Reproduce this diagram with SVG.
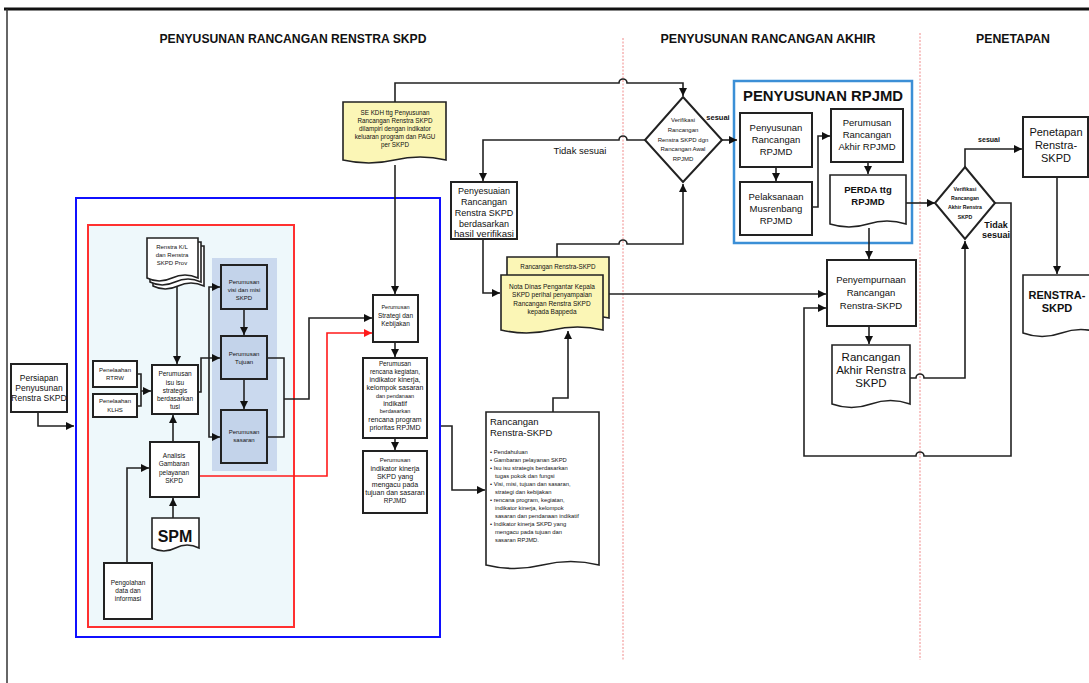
<svg xmlns="http://www.w3.org/2000/svg" width="1089" height="683" viewBox="0 0 1089 683">
<defs>
<marker id="a" viewBox="0 0 10 10" refX="10" refY="5" markerWidth="8" markerHeight="8" markerUnits="userSpaceOnUse" orient="auto"><path d="M0,0 L10,5 L0,10 z" fill="#111"/></marker>
<marker id="ar" viewBox="0 0 10 10" refX="10" refY="5" markerWidth="8" markerHeight="8" markerUnits="userSpaceOnUse" orient="auto"><path d="M0,0 L10,5 L0,10 z" fill="#ff1a1a"/></marker>
<style>
.t{font-family:"Liberation Sans",Arial,sans-serif;fill:#111;text-anchor:middle}
.b{font-weight:bold}
.box{fill:#fff;stroke:#222;stroke-width:2}
.pbox{fill:#c3d3ea;stroke:#222;stroke-width:2}
.doc{fill:#fff;stroke:#222;stroke-width:1.6}
.ydoc{fill:#fbf6b6;stroke:#222;stroke-width:1.6}
.ln{fill:none;stroke:#222;stroke-width:1.6}
.red{fill:none;stroke:#ff1a1a;stroke-width:1.6}
.div{stroke:#f08a8a;stroke-width:1;stroke-dasharray:2,1.5}
</style>
</defs>
<rect width="1089" height="683" fill="#fff"/>
<!-- frame -->
<line x1="4" y1="9" x2="1089" y2="9" stroke="#111" stroke-width="3"/>
<line x1="7" y1="9" x2="7" y2="683" stroke="#333" stroke-width="1.5"/>
<line class="div" x1="623" y1="38" x2="623" y2="660"/>
<line class="div" x1="920" y1="33" x2="920" y2="660"/>
<!-- headers -->
<text class="t b" x="293" y="43" font-size="13" textLength="267" lengthAdjust="spacingAndGlyphs">PENYUSUNAN RANCANGAN RENSTRA SKPD</text>
<text class="t b" x="768" y="43" font-size="13" textLength="215" lengthAdjust="spacingAndGlyphs">PENYUSUNAN RANCANGAN AKHIR</text>
<text class="t b" x="1013" y="43" font-size="13" textLength="74" lengthAdjust="spacingAndGlyphs">PENETAPAN</text>
<!-- containers -->
<g id="blue-container"><rect x="76" y="198" width="364" height="439" fill="none" stroke="#1010ff" stroke-width="2"/></g>
<g id="red-container"><rect x="88" y="225" width="206" height="402" fill="#eef8fb" stroke="#ff3030" stroke-width="2"/></g>
<g id="panel"><rect x="212" y="258" width="65" height="213" fill="#cad9ee"/></g>
<g id="rpjmd-container"><rect x="734" y="81" width="178" height="162" fill="#fff" stroke="#3b8fd6" stroke-width="2.5"/>
<text class="t b" x="823" y="101" font-size="15.5" textLength="160" lengthAdjust="spacingAndGlyphs">PENYUSUNAN RPJMD</text></g>

<!-- connectors -->
<g id="connectors">
<path class="ln" d="M38,412 V426 H74" marker-end="url(#a)"/>
<path class="ln" d="M137,374 H141 V406 H137 M141,391 H151" marker-end="url(#a)"/>
<path class="ln" d="M177,286 V364" marker-end="url(#a)"/>
<path class="ln" d="M173,442 V415" marker-end="url(#a)"/>
<path class="ln" d="M173,518 V498" marker-end="url(#a)"/>
<path class="ln" d="M127,563 V468 H149" marker-end="url(#a)"/>
<path class="ln" d="M198,392 H201 V358 H220" marker-end="url(#a)"/>
<path class="ln" d="M209,358 V287 H220" marker-end="url(#a)"/>
<path class="ln" d="M209,358 V437 H220" marker-end="url(#a)"/>
<path class="ln" d="M244,309 V335" marker-end="url(#a)"/>
<path class="ln" d="M244,379 V409" marker-end="url(#a)"/>
<path class="ln" d="M267,358 H284 V437 H267"/>
<path class="ln" d="M284,399 H309 V318 H372" marker-end="url(#a)"/>
<path class="red" d="M199,476 H327 V333 H372" marker-end="url(#ar)"/>
<path class="ln" d="M395,342 V357" marker-end="url(#a)"/>
<path class="ln" d="M395,438 V450" marker-end="url(#a)"/>
<path class="ln" d="M395,165 V294" marker-end="url(#a)"/>
<path class="ln" d="M395,102 V83 H619 a4,4 0 0 1 8,0 H683 V96" marker-end="url(#a)"/>
<path class="ln" d="M441,426 H452 V490 H485" marker-end="url(#a)"/>
<path class="ln" d="M553,412 V398 H568 V331" marker-end="url(#a)"/>
<path class="ln" d="M609,294 H826" marker-end="url(#a)"/>
<path class="ln" d="M557,257 V244 H619 a4,4 0 0 1 8,0 H683 V184" marker-end="url(#a)"/>
<path class="ln" d="M645,140 H627 a4,4 0 0 0 -8,0 H483 V181" marker-end="url(#a)"/>
<path class="ln" d="M483,239 V293 H500" marker-end="url(#a)"/>
<path class="ln" d="M722,140 H737" marker-end="url(#a)"/>
<path class="ln" d="M776,167 V181" marker-end="url(#a)"/>
<path class="ln" d="M812,207 H818 V136 H830" marker-end="url(#a)"/>
<path class="ln" d="M868,162 V174" marker-end="url(#a)"/>
<path class="ln" d="M906,203 H935" marker-end="url(#a)"/>
<path class="ln" d="M869,228 V259" marker-end="url(#a)"/>
<path class="ln" d="M869,326 V344" marker-end="url(#a)"/>
<path class="ln" d="M910,378 H916 a4,4 0 0 1 8,0 H965 V241" marker-end="url(#a)"/>
<path class="ln" d="M965,167 V149 H1022" marker-end="url(#a)"/>
<path class="ln" d="M995,203 H1011 V456 H924 a4,4 0 0 0 -8,0 H804 V308 H826" marker-end="url(#a)"/>
<path class="ln" d="M1057,177 V274" marker-end="url(#a)"/>
<text class="t b" x="718" y="120" font-size="7.5">sesuai</text>
<text class="t" x="580" y="154" font-size="9.5">Tidak sesuai</text>
<text class="t b" x="989" y="142" font-size="7">sesuai</text>
<text class="t b" x="996" y="228" font-size="9">Tidak</text>
<text class="t b" x="996" y="238" font-size="9">sesuai</text>
</g>

<!-- nodes -->
<g id="persiapan"><rect class="box" x="11" y="364" width="56" height="48"/>
<text class="t" font-size="8.5"><tspan x="39" y="381">Persiapan</tspan><tspan x="39" y="391">Penyusunan</tspan><tspan x="39" y="401">Renstra SKPD</tspan></text></g>

<g id="renstra-kl">
<path class="doc" d="M153,246 H204 V286 Q191,280 178,286 T153,286 Z"/>
<path class="doc" d="M150,242 H201 V282 Q188,276 175,282 T150,282 Z"/>
<path class="doc" d="M147,238 H198 V278 Q185,272 172,278 T147,278 Z"/>
<text class="t" font-size="6"><tspan x="172" y="249">Renstra K/L</tspan><tspan x="172" y="257">dan Renstra</tspan><tspan x="172" y="265">SKPD Prov</tspan></text></g>

<g id="rtrw"><rect class="box" x="93" y="361" width="44" height="26"/>
<text class="t" font-size="6"><tspan x="115" y="372">Penelaahan</tspan><tspan x="115" y="380">RTRW</tspan></text></g>
<g id="klhs"><rect class="box" x="93" y="394" width="44" height="23"/>
<text class="t" font-size="6"><tspan x="115" y="403">Penelaahan</tspan><tspan x="115" y="412">KLHS</tspan></text></g>

<g id="isu"><rect class="box" x="152" y="365" width="46" height="49"/>
<text class="t" font-size="6.5"><tspan x="175" y="376">Perumusan</tspan><tspan x="175" y="385">isu isu</tspan><tspan x="175" y="393">strategis</tspan><tspan x="175" y="401">berdasarkan</tspan><tspan x="175" y="409">tusi</tspan></text></g>

<g id="analisis"><rect class="box" x="150" y="442" width="49" height="55"/>
<text class="t" font-size="6.5"><tspan x="174" y="458">Analisis</tspan><tspan x="174" y="466">Gambaran</tspan><tspan x="174" y="475">pelayanan</tspan><tspan x="174" y="483">SKPD</tspan></text></g>

<g id="spm"><path class="doc" d="M152,518 H199 V548 Q187,542 175.5,548 T152,548 Z"/>
<text class="t b" x="175" y="542" font-size="16">SPM</text></g>

<g id="pengolahan"><rect class="box" x="104" y="563" width="48" height="56"/>
<text class="t" font-size="6.5"><tspan x="128" y="585">Pengolahan</tspan><tspan x="128" y="593">data dan</tspan><tspan x="128" y="601">informasi</tspan></text></g>

<g id="visi"><rect class="pbox" x="221" y="265" width="46" height="44"/>
<text class="t" font-size="6"><tspan x="244" y="284">Perumusan</tspan><tspan x="244" y="292">visi dan misi</tspan><tspan x="244" y="300">SKPD</tspan></text></g>
<g id="tujuan"><rect class="pbox" x="221" y="336" width="46" height="43"/>
<text class="t" font-size="6"><tspan x="244" y="356">Perumusan</tspan><tspan x="244" y="364">Tujuan</tspan></text></g>
<g id="sasaran"><rect class="pbox" x="221" y="410" width="46" height="53"/>
<text class="t" font-size="6"><tspan x="244" y="434">Perumusan</tspan><tspan x="244" y="442">sasaran</tspan></text></g>

<g id="se-kdh"><path class="ydoc" d="M343,102 H446 V160 Q420,154 394.5,160 T343,160 Z"/>
<text class="t" font-size="6.3"><tspan x="395" y="115">SE KDH  ttg Penyusunan</tspan><tspan x="395" y="123">Rancangan Renstra SKPD</tspan><tspan x="395" y="131">dilampiri dengan indikator</tspan><tspan x="395" y="139">keluaran program dan PAGU</tspan><tspan x="395" y="147">per SKPD</tspan></text></g>

<g id="strategi"><rect class="box" x="373" y="295" width="45" height="47"/>
<text class="t" font-size="5.5"><tspan x="395.5" y="309">Perumusan</tspan></text>
<text class="t" font-size="6.5"><tspan x="395.5" y="318">Strategi dan</tspan><tspan x="395.5" y="326">Kebijakan</tspan></text></g>

<g id="rencana"><rect class="box" x="363" y="358" width="64" height="80"/>
<text class="t" font-size="6.3"><tspan x="395" y="366">Perumusan</tspan><tspan x="395" y="374">rencana kegiatan,</tspan></text>
<text class="t" font-size="7"><tspan x="395" y="382">indikator kinerja,</tspan><tspan x="395" y="390">kelompok sasaran</tspan></text>
<text class="t" font-size="5.5"><tspan x="395" y="398">dan pendanaan</tspan></text>
<text class="t" font-size="7"><tspan x="395" y="406">indikatif</tspan></text>
<text class="t" font-size="5.5"><tspan x="395" y="413">berdasarkan</tspan></text>
<text class="t" font-size="7"><tspan x="395" y="422">rencana program</tspan><tspan x="395" y="430">prioritas RPJMD</tspan></text></g>

<g id="indikator"><rect class="box" x="363" y="451" width="64" height="62"/>
<text class="t" font-size="6"><tspan x="395" y="462">Perumusan</tspan></text>
<text class="t" font-size="7"><tspan x="395" y="471">indikator kinerja</tspan><tspan x="395" y="479">SKPD yang</tspan><tspan x="395" y="487">mengacu pada</tspan><tspan x="395" y="495">tujuan dan sasaran</tspan></text>
<text class="t" font-size="6.5"><tspan x="395" y="503">RPJMD</tspan></text></g>

<g id="rancangan-renstra"><path class="doc" d="M486,412 H599 V565 Q570.75,558 542.5,565 T486,565 Z"/>
<text font-family="Liberation Sans, Arial, sans-serif" fill="#111" font-size="9.5"><tspan x="490" y="425">Rancangan</tspan><tspan x="490" y="436">Renstra-SKPD</tspan></text>
<text font-family="Liberation Sans, Arial, sans-serif" fill="#111" font-size="5.8">
<tspan x="490" y="454">•  Pendahuluan</tspan>
<tspan x="490" y="462">•  Gambaran pelayanan SKPD</tspan>
<tspan x="490" y="470">•  Isu isu strategis  berdasarkan</tspan>
<tspan x="495" y="478">tugas pokok dan fungsi</tspan>
<tspan x="490" y="486">•  Visi, misi, tujuan dan sasaran,</tspan>
<tspan x="495" y="494">strategi dan kebijakan</tspan>
<tspan x="490" y="502">•  rencana program, kegiatan,</tspan>
<tspan x="495" y="510">indikator kinerja, kelompok</tspan>
<tspan x="495" y="518">sasaran dan pendanaan indikatif</tspan>
<tspan x="490" y="526">•  Indikator kinerja SKPD yang</tspan>
<tspan x="495" y="534">mengacu pada tujuan dan</tspan>
<tspan x="495" y="542">sasaran  RPJMD.</tspan></text></g>

<g id="nota"><path class="ydoc" d="M507,257 H609 V318 Q583.5,312 558,318 T507,318 Z"/>
<text class="t" x="558" y="269" font-size="6.3">Rancangan Renstra-SKPD</text>
<path class="ydoc" d="M501,275 H603 V330 Q577.5,324 552,330 T501,330 Z"/>
<text class="t" font-size="6.5"><tspan x="552" y="289">Nota Dinas Pengantar Kepala</tspan><tspan x="552" y="297">SKPD perihal penyampaian</tspan><tspan x="552" y="306">Rancangan Renstra SKPD</tspan><tspan x="552" y="314">kepada Bappeda</tspan></text></g>

<g id="penyesuaian"><rect class="box" x="451" y="182" width="66" height="57"/>
<text class="t" font-size="9"><tspan x="484" y="194">Penyesuaian</tspan><tspan x="484" y="205">Rancangan</tspan><tspan x="484" y="216">Renstra SKPD</tspan><tspan x="484" y="227">berdasarkan</tspan><tspan x="484" y="237" textLength="60" lengthAdjust="spacingAndGlyphs">hasil verifikasi</tspan></text></g>

<g id="verifikasi-1"><path class="box" d="M683,97 L722,140 L683,182 L645,140 Z"/>
<text class="t" font-size="6"><tspan x="683" y="122">Verifikasi</tspan><tspan x="683" y="132">Rancangan</tspan><tspan x="683" y="142">Renstra SKPD dgn</tspan><tspan x="683" y="151">Rancangan Awal</tspan><tspan x="683" y="161">RPJMD</tspan></text></g>

<g id="penyusunan-rpjmd"><rect class="box" x="740" y="113" width="72" height="54" stroke-width="1.6"/>
<text class="t" font-size="9.5"><tspan x="776" y="131">Penyusunan</tspan><tspan x="776" y="143">Rancangan</tspan><tspan x="776" y="155">RPJMD</tspan></text></g>
<g id="musrenbang"><rect class="box" x="740" y="182" width="72" height="53" stroke-width="1.6"/>
<text class="t" font-size="9.5"><tspan x="776" y="200">Pelaksanaan</tspan><tspan x="776" y="212">Musrenbang</tspan><tspan x="776" y="224">RPJMD</tspan></text></g>
<g id="perumusan-akhir"><rect class="box" x="831" y="109" width="72" height="53" stroke-width="1.6"/>
<text class="t" font-size="9.5"><tspan x="867" y="126">Perumusan</tspan><tspan x="867" y="138">Rancangan</tspan><tspan x="867" y="150">Akhir RPJMD</tspan></text></g>
<g id="perda"><path class="doc" d="M830,175 H906 V224 Q887,218 868,224 T830,224 Z"/>
<text class="t b" font-size="9.5"><tspan x="868" y="193">PERDA ttg</tspan><tspan x="868" y="205">RPJMD</tspan></text></g>

<g id="penyempurnaan"><rect class="box" x="827" y="260" width="89" height="66"/>
<text class="t" font-size="9.5"><tspan x="871" y="283">Penyempurnaan</tspan><tspan x="871" y="296">Rancangan</tspan><tspan x="871" y="309">Renstra-SKPD</tspan></text></g>

<g id="rancangan-akhir"><path class="doc" d="M832,345 H910 V404 Q890.5,397 871,404 T832,404 Z"/>
<text class="t" font-size="11.5"><tspan x="871" y="361">Rancangan</tspan><tspan x="871" y="374">Akhir Renstra</tspan><tspan x="871" y="387">SKPD</tspan></text></g>

<g id="verifikasi-2"><path class="box" d="M965,167 L995,203 L965,239 L935,203 Z"/>
<text class="t b" font-size="5.2"><tspan x="965" y="191">Verifikasi</tspan><tspan x="965" y="200">Rancangan</tspan><tspan x="965" y="209">Akhir Renstra</tspan><tspan x="965" y="219">SKPD</tspan></text></g>

<g id="penetapan"><rect class="box" x="1023" y="117" width="65" height="60"/>
<text class="t" font-size="11"><tspan x="1056" y="136">Penetapan</tspan><tspan x="1056" y="149">Renstra-</tspan><tspan x="1056" y="162">SKPD</tspan></text></g>

<g id="renstra-skpd"><path class="doc" d="M1023,275 H1100 V333 Q1081,326 1061.5,333 T1023,333 Z"/>
<text class="t b" font-size="11"><tspan x="1057" y="299">RENSTRA-</tspan><tspan x="1057" y="312">SKPD</tspan></text></g>
</svg>
